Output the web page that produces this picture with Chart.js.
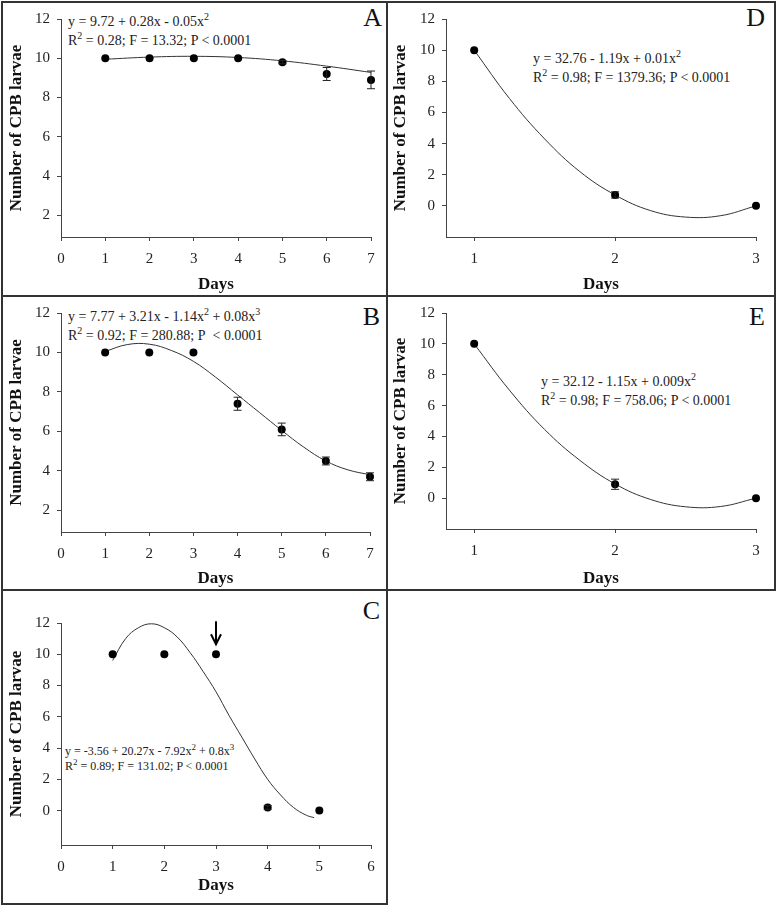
<!DOCTYPE html>
<html lang="en">
<head>
<meta charset="UTF-8">
<title>Number of CPB larvae by day</title>
<script src="https://cdn.jsdelivr.net/npm/chart.js"></script>
<style>
  body { margin: 0; background: #fff; }
  #page { position: relative; width: 777px; height: 906px; overflow: hidden;
          font-family: "Liberation Serif", "Times New Roman", serif; color: #222; }
  .box { position: absolute; border: 2px solid #333; box-sizing: border-box; }
  canvas { position: absolute; }
  .eq { position: absolute; font-size: 14px; line-height: 19px; white-space: nowrap; }
  .eq.small { font-size: 12px; line-height: 15px; }
  .eq sup { font-size: 10px; position: relative; top: -6px; vertical-align: baseline; line-height: 0; }
  .eq.small sup { font-size: 9px; top: -5px; }
  .tag { position: absolute; font-size: 26px; line-height: 30px; color: #111; }
</style>
</head>
<body>
<div id="page">
  <div class="box" style="left:1px;top:1px;width:387px;height:296px"></div>
  <div class="box" style="left:386px;top:1px;width:390px;height:296px"></div>
  <div class="box" style="left:1px;top:295px;width:387px;height:296px"></div>
  <div class="box" style="left:386px;top:295px;width:390px;height:296px"></div>
  <div class="box" style="left:1px;top:589px;width:387px;height:316px"></div>

  <div class="eq" style="left:68px;top:12px">y = 9.72 + 0.28x - 0.05x<sup>2</sup><br>R<sup>2</sup> = 0.28; F = 13.32; P &lt; 0.0001</div>
  <div class="eq" style="left:68px;top:307px">y = 7.77 + 3.21x - 1.14x<sup>2</sup> + 0.08x<sup>3</sup><br>R<sup>2</sup> = 0.92; F = 280.88; P&nbsp; &lt; 0.0001</div>
  <div class="eq small" style="left:65px;top:744px">y = -3.56 + 20.27x - 7.92x<sup>2</sup> + 0.8x<sup>3</sup><br>R<sup>2</sup> = 0.89; F = 131.02; P &lt; 0.0001</div>
  <div class="eq" style="left:533px;top:49px">y = 32.76 - 1.19x + 0.01x<sup>2</sup><br>R<sup>2</sup> = 0.98; F = 1379.36; P &lt; 0.0001</div>
  <div class="eq" style="left:541px;top:372px">y = 32.12 - 1.15x + 0.009x<sup>2</sup><br>R<sup>2</sup> = 0.98; F = 758.06; P &lt; 0.0001</div>

  <div class="tag" style="right:395px;top:3px">A</div>
  <div class="tag" style="right:12px;top:3px">D</div>
  <div class="tag" style="right:397px;top:302px">B</div>
  <div class="tag" style="right:12px;top:302px">E</div>
  <div class="tag" style="right:397px;top:596px">C</div>
</div>

<script>
// ---- data ----
const daysA = [1, 2, 3, 4, 5, 6, 7];
const larvaeA = [10, 10, 10, 10, 9.8, 9.2, 8.9];
const errA = [0, 0, 0, 0, 0.08, 0.33, 0.45];
const fitAx = [1, 2, 3, 4, 5, 6, 7];
const fitAy = [9.95, 10.06, 10.1, 10.04, 9.87, 9.6, 9.28];

const daysB = [1, 2, 3, 4, 5, 6, 7];
const larvaeB = [10, 10, 10, 7.4, 6.1, 4.5, 3.7];
const errB = [0, 0, 0, 0.33, 0.32, 0.2, 0.2];
const fitBx = [1, 1.5, 2, 2.5, 3, 3.5, 4, 4.5, 5, 5.5, 6, 6.5, 7];
const fitBy = [10.05, 10.4, 10.42, 10.1, 9.55, 8.75, 7.85, 6.95, 6.05, 5.2, 4.5, 4.05, 3.8];

const daysC = [1, 2, 3, 4, 5];
const larvaeC = [10, 10, 10, 0.2, 0];
const errC = [0, 0, 0, 0.12, 0];
const fitCx = [1, 1.25, 1.5, 1.75, 2, 2.25, 2.5, 2.75, 3, 3.25, 3.5, 3.75, 4, 4.25, 4.5, 4.75, 4.9];
const fitCy = [9.6, 11.0, 11.7, 11.95, 11.7, 11.1, 10.1, 8.9, 7.6, 6.1, 4.7, 3.3, 2.0, 1.0, 0.2, -0.3, -0.45];

const daysD = [1, 2, 3];
const larvaeD = [10, 0.7, 0];
const errD = [0, 0.2, 0];
const fitDx = [1, 1.25, 1.5, 1.75, 2, 2.25, 2.5, 2.75, 3];
const fitDy = [10, 6.9, 4.3, 2.2, 0.7, -0.3, -0.72, -0.63, 0];

const daysE = [1, 2, 3];
const larvaeE = [10, 0.9, 0];
const errE = [0, 0.33, 0];
const fitEx = fitDx;
const fitEy = [10, 7.0, 4.45, 2.45, 0.92, -0.08, -0.56, -0.54, 0];

const ticksX7 = [0, 1, 2, 3, 4, 5, 6, 7];
const ticksX6 = [0, 1, 2, 3, 4, 5, 6];
const ticksX3 = [1, 2, 3];
const ticksY2 = [2, 4, 6, 8, 10, 12];
const ticksY0 = [0, 2, 4, 6, 8, 10, 12];

// ---- layout of the five panels (page pixels) ----
const panels = [
  { canvas: [3, 3, 383, 292], area: [61, 15, 371, 237], xMin: 0, xMax: 7, yMin: 0.9, yMax: 12,
    xTicks: ticksX7, yTicks: ticksY2, days: daysA, larvae: larvaeA, err: errA, fx: fitAx, fy: fitAy, yPad: 3, dPad: 0 },
  { canvas: [3, 297, 383, 292], area: [61, 310, 370, 532], xMin: 0, xMax: 7, yMin: 0.9, yMax: 12,
    xTicks: ticksX7, yTicks: ticksY2, days: daysB, larvae: larvaeB, err: errB, fx: fitBx, fy: fitBy, yPad: 3, dPad: 0 },
  { canvas: [3, 591, 383, 312], area: [61, 623, 371, 845], xMin: 0, xMax: 6, yMin: -2.2, yMax: 12,
    xTicks: ticksX6, yTicks: ticksY0, days: daysC, larvae: larvaeC, err: errC, fx: fitCx, fy: fitCy, yPad: 3, dPad: 7, arrowDay: 3 },
  { canvas: [389, 3, 385, 292], area: [446, 15, 756, 237], xMin: 0.8, xMax: 3, yMin: -2, yMax: 12,
    xTicks: ticksX3, yTicks: ticksY0, days: daysD, larvae: larvaeD, err: errD, fx: fitDx, fy: fitDy, yPad: 1.5, dPad: 0 },
  { canvas: [389, 297, 385, 292], area: [446, 308, 756, 529], xMin: 0.8, xMax: 3, yMin: -2, yMax: 12,
    xTicks: ticksX3, yTicks: ticksY0, days: daysE, larvae: larvaeE, err: errE, fx: fitEx, fy: fitEy, yPad: 1.5, dPad: 0 }
];

const FONT = 'Liberation Serif';
const tickFont = { family: FONT, size: 15 };
const titleFont = { family: FONT, size: 17, weight: 'bold' };

function makePanel(p) {
  const [cx, cy, cw, ch] = p.canvas;
  const [L, T, R, B] = p.area;
  const cv = document.createElement('canvas');
  cv.width = cw; cv.height = ch;
  cv.style.left = cx + 'px'; cv.style.top = cy + 'px';
  cv.style.width = cw + 'px'; cv.style.height = ch + 'px';
  document.getElementById('page').appendChild(cv);

  // error bars + optional arrow
  const extras = {
    id: 'extras',
    afterDatasetsDraw(chart) {
      const { ctx, scales: { x, y } } = chart;
      ctx.save();
      ctx.strokeStyle = '#222';
      ctx.lineWidth = 1;
      p.err.forEach((e, i) => {
        if (!e) return;
        const px = x.getPixelForValue(p.days[i]);
        const top = y.getPixelForValue(p.larvae[i] + e);
        const bot = y.getPixelForValue(p.larvae[i] - e);
        ctx.beginPath();
        ctx.moveTo(px, top); ctx.lineTo(px, bot);
        ctx.moveTo(px - 4, top); ctx.lineTo(px + 4, top);
        ctx.moveTo(px - 4, bot); ctx.lineTo(px + 4, bot);
        ctx.stroke();
      });
      if (p.arrowDay) {
        const i = p.days.indexOf(p.arrowDay);
        const px = x.getPixelForValue(p.arrowDay);
        const py = y.getPixelForValue(p.larvae[i]);
        ctx.strokeStyle = '#000';
        ctx.lineWidth = 2;
        ctx.beginPath();
        ctx.moveTo(px, py - 33); ctx.lineTo(px, py - 10);
        ctx.moveTo(px - 5, py - 20); ctx.lineTo(px, py - 10); ctx.lineTo(px + 5, py - 20);
        ctx.stroke();
      }
      ctx.restore();
    }
  };

  new Chart(cv, {
    type: 'scatter',
    data: {
      datasets: [
        { data: p.fx.map((v, i) => ({ x: v, y: p.fy[i] })), showLine: true, tension: 0.4,
          borderColor: '#333', borderWidth: 1, pointRadius: 0, clip: false, order: 2 },
        { data: p.days.map((v, i) => ({ x: v, y: p.larvae[i] })), pointRadius: 4,
          backgroundColor: '#000', borderColor: '#000', borderWidth: 0, clip: false, order: 1 }
      ]
    },
    options: {
      responsive: false,
      animation: false,
      devicePixelRatio: 1,
      events: [],
      layout: { padding: { left: 0, top: T - cy, right: cx + cw - R, bottom: 0 } },
      plugins: { legend: { display: false }, tooltip: { enabled: false } },
      scales: {
        x: {
          type: 'linear', min: p.xMin, max: p.xMax,
          afterBuildTicks: s => { s.ticks = p.xTicks.map(v => ({ value: v })); },
          afterFit: s => { s.height = cy + ch - B; },
          grid: { drawOnChartArea: false, tickLength: 4, color: '#444' },
          border: { color: '#444', width: 1 },
          ticks: { font: tickFont, color: '#222', padding: 9, maxRotation: 0 },
          title: { display: true, text: 'Days', font: titleFont, color: '#111',
                   padding: { top: 0, bottom: p.dPad } }
        },
        y: {
          type: 'linear', min: p.yMin, max: p.yMax,
          afterBuildTicks: s => { s.ticks = p.yTicks.map(v => ({ value: v })); },
          afterFit: s => { s.width = L - cx; },
          grid: { drawOnChartArea: false, tickLength: 4, color: '#444' },
          border: { color: '#444', width: 1 },
          ticks: { font: tickFont, color: '#222', padding: 7 },
          title: { display: true, text: 'Number of CPB larvae', font: titleFont, color: '#111',
                   padding: { top: p.yPad, bottom: 0 } }
        }
      }
    },
    plugins: [extras]
  });
}

panels.forEach(makePanel);
</script>
</body>
</html>
